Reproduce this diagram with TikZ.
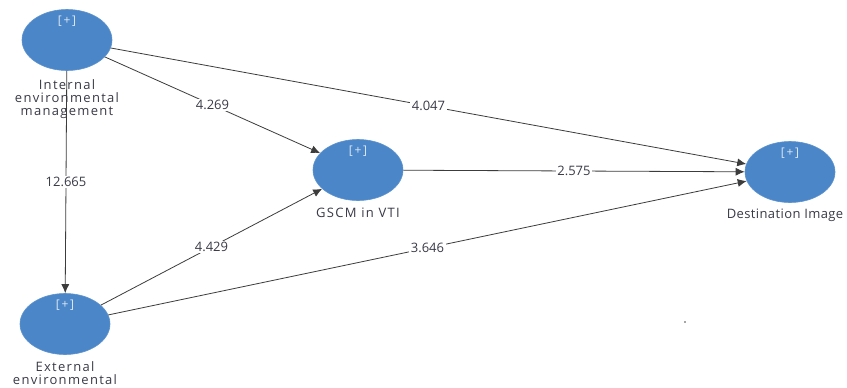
\documentclass[tikz,border=0pt]{standalone}
\usepackage{fontspec}
\setmainfont{Open Sans}
\usetikzlibrary{shapes.geometric,arrows.meta}

\definecolor{latentblue}{HTML}{4A86C8}
\definecolor{plusblue}{HTML}{DCE7F5}
\definecolor{edgegray}{HTML}{3C3C3C}
\definecolor{textgray}{HTML}{3A3A48}

\tikzset{
  latent/.style={ellipse,fill=latentblue,draw=latentblue!90!white,line width=0.6pt,
    minimum width=90,minimum height=61,inner sep=0pt},
  plus/.style={font=\fontsize{12}{12}\selectfont\addfontfeatures{LetterSpace=15},text=plusblue,inner sep=0pt},
  caption/.style={font=\fontsize{13}{13}\selectfont\addfontfeatures{LetterSpace=10},text=textgray,align=center,inner sep=0pt},
  path/.style={draw=edgegray,line width=0.8pt,-{Latex[length=9pt,width=8pt]}},
  weight/.style={font=\fontsize{13}{13}\selectfont,text=textgray,fill=white,inner sep=1.5pt,pos=0.5}
}

\begin{document}
\begin{tikzpicture}[x=1pt,y=-1pt]
  \clip (0,0) rectangle (847,388);
  \fill[white] (0,0) rectangle (847,388);

  \node[latent] (int) at (67,40) {};
  \node[latent] (ext) at (65,324) {};
  \node[latent] (gscm) at (358,170) {};
  \node[latent] (dest) at (790,172) {};

  \foreach \n in {int,ext,gscm,dest} {
    \node[plus] at ([yshift=19pt]\n.center) {[+]};
  }

  \node[caption,anchor=north] (intlabel) at (67,79) {Internal\\environmental\\management};
  \node[caption,anchor=north] (extlabel) at (65,361) {External\\environmental};
  \node[caption] (gscmlabel) at (358,213) {GSCM in VTI};
  \node[caption,font=\fontsize{13}{13}\selectfont\addfontfeatures{LetterSpace=3}] (destlabel) at (785,215) {Destination Image};

  \foreach \a/\b/\v in {int/gscm/4.269,int/dest/4.047,int/ext/12.665,ext/gscm/4.429,ext/dest/3.646,gscm/dest/2.575} {
    \draw[path] (\a) -- node[weight] {\v} (\b);
  }

  \fill[black!70] (685,322) circle (0.9pt);
\end{tikzpicture}
\end{document}
